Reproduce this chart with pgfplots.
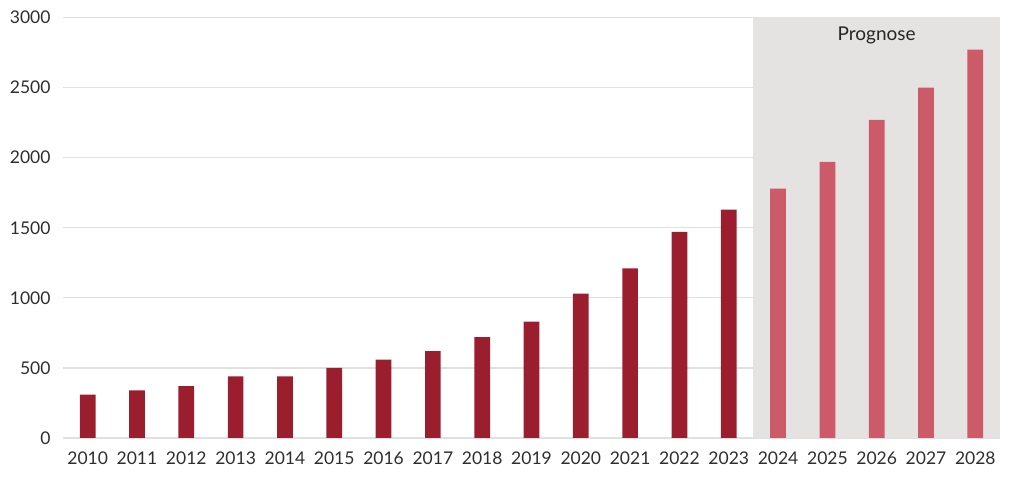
\documentclass[border=0pt]{standalone}
\usepackage{pgfplots}
\pgfplotsset{compat=1.18}
\usepackage{fontspec}
\setmainfont{Lato}
\usetikzlibrary{calc}
\definecolor{dred}{HTML}{9B1E2F}
\definecolor{lred}{HTML}{CC5A68}
\definecolor{bgg}{HTML}{E5E3E2}
\definecolor{txt}{HTML}{2E2E2E}
\begin{document}
\begin{tikzpicture}
\begin{axis}[
  name=ax,
  set layers,
  scale only axis,
  width=937pt, height=420.5pt,
  xmin=-0.5, xmax=18.5,
  ymin=0, ymax=3000,
  ytick={0,500,...,3000},
  xtick={0,...,18},
  xticklabels={2010,2011,2012,2013,2014,2015,2016,2017,2018,2019,2020,2021,2022,2023,2024,2025,2026,2027,2028},
  axis line style={draw=none},
  major tick length=0pt,
  ymajorgrids,
  grid style={draw=black, opacity=0.12, line width=1.3pt},
  tick label style={font=\fontsize{17.5}{20}\selectfont, text=txt},
  /pgf/number format/assume math mode=true,
  /pgf/number format/1000 sep={},
  yticklabel style={xshift=-9pt},
  xticklabel style={yshift=-10pt},
  ybar, bar width=15.7pt,
]
\fill[bgg, on layer=axis background] (axis cs:13.5,0) rectangle (axis cs:18.5,3000);
\node[font=\fontsize{19}{22}\selectfont, text=black!85] at (axis cs:16,2870) {Prognose};
\addplot[fill=dred, draw=none, bar shift=0pt] coordinates {
(0,310) (1,340) (2,370) (3,440) (4,440) (5,500) (6,560) (7,620) (8,720) (9,830) (10,1030) (11,1210) (12,1470) (13,1630)};
\addplot[fill=lred, draw=none, bar shift=0pt] coordinates {
(14,1780) (15,1970) (16,2270) (17,2500) (18,2770)};
\end{axis}
\pgfresetboundingbox
\path ($(ax.south west)+(-63pt,-41pt)$) rectangle ($(ax.north east)+(15pt,17.5pt)$);
\end{tikzpicture}
\end{document}
